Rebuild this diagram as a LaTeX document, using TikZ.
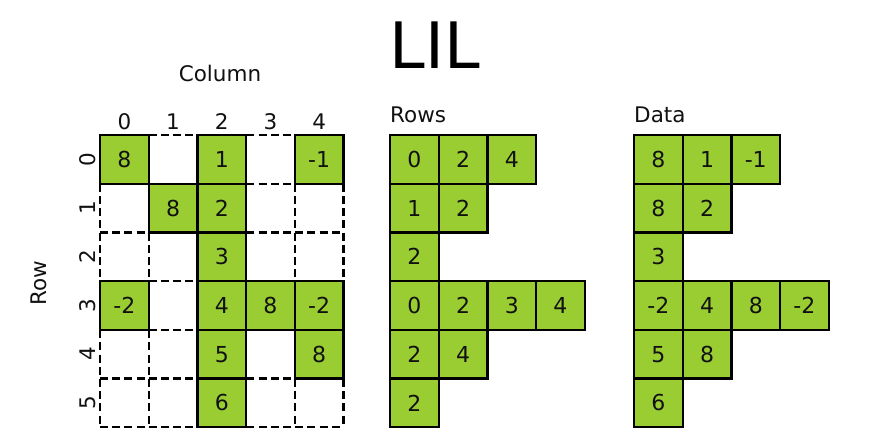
\documentclass[tikz,border=0pt]{standalone}
\usepackage{fontspec}
\setmainfont{DejaVu Sans}
\definecolor{cellgreen}{HTML}{9ACD32}
\definecolor{ink}{HTML}{111111}
\begin{document}
\begin{tikzpicture}[x=1pt,y=-1pt,
  cell/.style={draw=black, line width=2.4pt, fill=cellgreen, minimum size=48.7pt, inner sep=0pt, text=ink, font=\fontsize{22}{22}\selectfont},
  griddash/.style={draw=black, line width=2.4pt, dash pattern=on 8pt off 4.2pt},
  lab/.style={font=\fontsize{21.5}{21.5}\selectfont, inner sep=0pt, text=ink}]
\useasboundingbox (0,0) rectangle (877,442);
\def\s{48.7}
% title
\node[font=\fontsize{64}{64}\selectfont, inner sep=0pt] (title) at (435,45) {LIL};
% left grid dashed
\foreach \i in {0,...,5} \draw[griddash] ({100+\i*\s},135) -- ({100+\i*\s},{135+6*\s});
\foreach \j in {0,...,6} \draw[griddash] (100,{135+\j*\s}) -- ({100+5*\s},{135+\j*\s});
\foreach \r/\c/\v in {0/0/8,0/2/1,0/4/-1,1/1/8,1/2/2,2/2/3,3/0/-2,3/2/4,3/3/8,3/4/-2,4/2/5,4/4/8,5/2/6}
  \node[cell] (g-\r-\c) at ({100+(\c+0.5)*\s},{135+(\r+0.5)*\s}) {\v};
% column / row labels
\node[lab] (collabel) at (220,73) {Column};
\node[lab, rotate=90] (rowlabel) at (39,283) {Row};
\foreach \c in {0,...,4} \node[lab] (cn-\c) at ({100+(\c+0.5)*\s},122) {\c};
\foreach \r in {0,...,5} \node[lab, rotate=90] (rn-\r) at (88,{135+(\r+0.5)*\s}) {\r};
% Rows
\node[lab, anchor=west] (rowshead) at (390,115) {Rows};
\foreach \r/\c/\v in {0/0/0,0/1/2,0/2/4,1/0/1,1/1/2,2/0/2,3/0/0,3/1/2,3/2/3,3/3/4,4/0/2,4/1/4,5/0/2}
  \node[cell] (r-\r-\c) at ({390+(\c+0.5)*\s},{135+(\r+0.5)*\s}) {\v};
% Data
\node[lab, anchor=west] (datahead) at (634,115) {Data};
\foreach \r/\c/\v in {0/0/8,0/1/1,0/2/-1,1/0/8,1/1/2,2/0/3,3/0/-2,3/1/4,3/2/8,3/3/-2,4/0/5,4/1/8,5/0/6}
  \node[cell] (d-\r-\c) at ({634+(\c+0.5)*\s},{135+(\r+0.5)*\s}) {\v};
\end{tikzpicture}
\end{document}
